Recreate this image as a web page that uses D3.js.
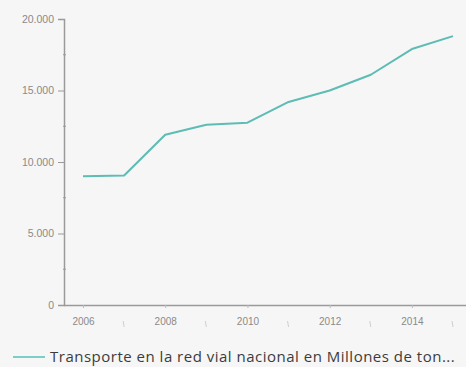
<!DOCTYPE html>
<html>
<head>
<meta charset="utf-8">
<script src="https://cdn.jsdelivr.net/npm/d3@7"></script>
<style>
  html, body { margin: 0; padding: 0; background: #f6f6f6; }
  svg { display: block; font-family: "Open Sans", "Noto Sans", sans-serif; }
</style>
</head>
<body>
<svg id="chart" width="466" height="367"></svg>
<script>
// Transporte en la red vial nacional (millones de ton.)
const years = [2006, 2007, 2008, 2009, 2010, 2011, 2012, 2013, 2014, 2015];
const tonnage = [9000, 9050, 11900, 12600, 12750, 14200, 15000, 16100, 17900, 18800];
const yTicks = [0, 5000, 10000, 15000, 20000];
const yMinorTicks = [2500, 7500, 12500, 17500];
const xLabelYears = [2006, 2008, 2010, 2012, 2014];
const xMinorYears = [2007, 2009, 2011, 2013, 2015];
const seriesName = 'Transporte en la red vial nacional en Millones de ton...';

const width = 466, height = 367;
const margin = { top: 19, right: 13, bottom: 62, left: 64 };
const svg = d3.select('#chart');

const locale = d3.formatLocale({ decimal: ',', thousands: '.', grouping: [3], currency: ['', ''] });
const fmt = locale.format(',d');

const x = d3.scaleLinear().domain([2006, 2015]).range([83, 453]);
const y = d3.scaleLinear().domain([0, 20000]).range([height - margin.bottom, margin.top]);

const axisColor = '#9a9a9a';
const textColor = '#8a8a8a';

// y axis
const gy = svg.append('g')
  .attr('transform', `translate(${margin.left},0)`)
  .call(d3.axisLeft(y).tickValues(yTicks).tickFormat(fmt).tickSize(6).tickPadding(4));
gy.select('.domain').attr('stroke', axisColor).attr('stroke-width', 1.5);
gy.selectAll('.tick line').attr('stroke', axisColor);
gy.selectAll('.tick text').attr('fill', textColor).style('font-size', '10.5px');

svg.append('g').selectAll('line').data(yMinorTicks).enter().append('line')
  .attr('x1', margin.left - 1).attr('x2', margin.left + 2)
  .attr('y1', d => y(d)).attr('y2', d => y(d))
  .attr('stroke', axisColor);

// x axis
const gx = svg.append('g')
  .attr('transform', `translate(0,${y(0)})`)
  .call(d3.axisBottom(x).tickValues(xLabelYears).tickFormat(d3.format('d')).tickSize(3).tickPadding(10));
gx.select('.domain').attr('stroke', axisColor).attr('stroke-width', 1.5)
  .attr('d', `M${margin.left},0.5H${width}`);
gx.selectAll('.tick line').attr('stroke', '#bbb');
gx.selectAll('.tick text').attr('fill', textColor).style('font-size', '10px');

svg.append('g').selectAll('line').data(xMinorYears).enter().append('line')
  .attr('x1', d => x(d) - 1).attr('x2', d => x(d))
  .attr('y1', y(0) + 16).attr('y2', y(0) + 22)
  .attr('stroke', '#cfcfcf');

// series line
const line = d3.line().x((d, i) => x(years[i])).y(d => y(d));
svg.append('path')
  .datum(tonnage)
  .attr('fill', 'none')
  .attr('stroke', '#5dbcb3')
  .attr('stroke-width', 2)
  .attr('stroke-linejoin', 'round')
  .attr('d', line);

// legend
const lg = svg.append('g').attr('transform', 'translate(13,357)');
lg.append('line').attr('x1', 0).attr('x2', 32).attr('y1', 0).attr('y2', 0)
  .attr('stroke', '#7ccfc6').attr('stroke-width', 2);
lg.append('text').attr('x', 37).attr('y', 5)
  .attr('fill', '#3c3c3c').style('font-size', '15px').style('letter-spacing', '0.5px')
  .text(seriesName);
</script>
</body>
</html>
